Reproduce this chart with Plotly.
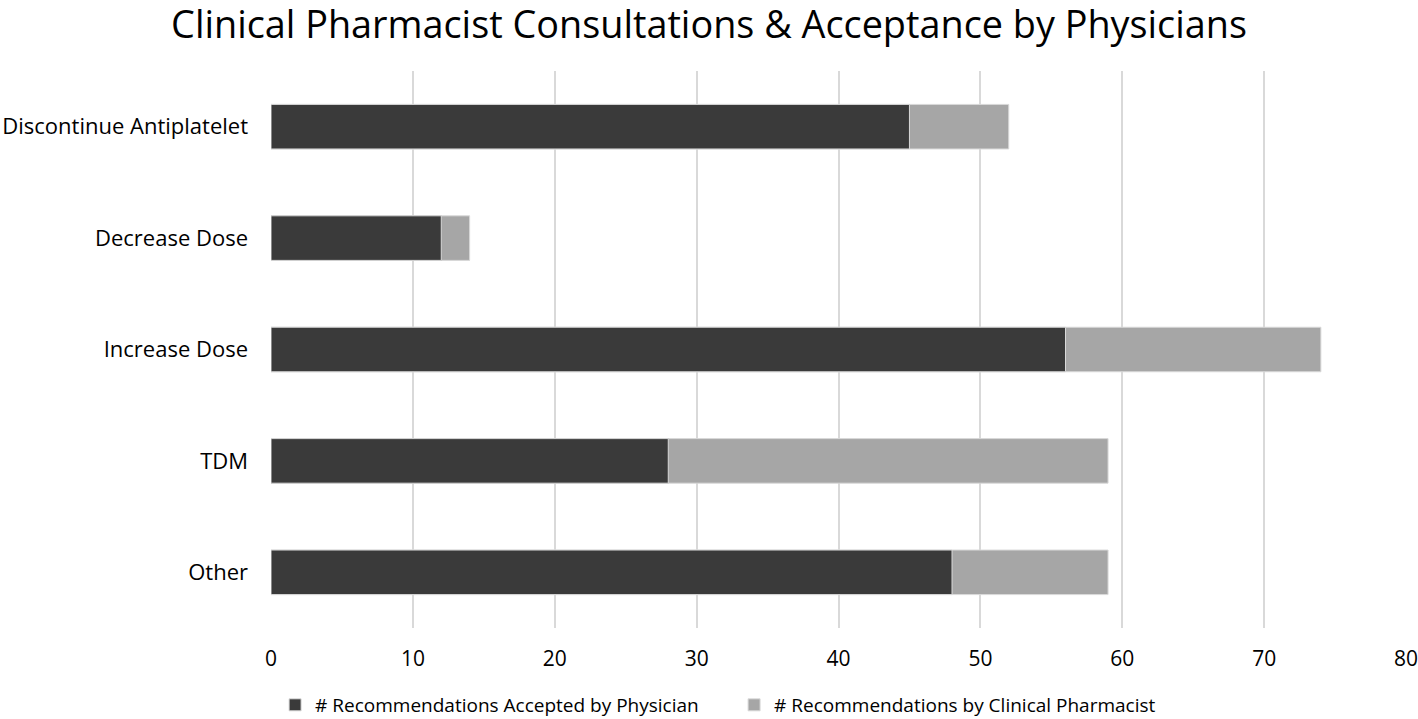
import plotly.graph_objects as go

categories = ["Discontinue Antiplatelet", "Decrease Dose", "Increase Dose", "TDM", "Other"]
accepted = [45, 12, 56, 28, 48]
recommended = [52, 14, 74, 59, 59]
x_ticks = [0, 10, 20, 30, 40, 50, 60, 70, 80]

FONT = "Open Sans, sans-serif"

fig = go.Figure()
fig.add_trace(go.Bar(
    y=categories, x=recommended, orientation="h",
    name="# Recommendations by Clinical Pharmacist",
    marker=dict(color="#a6a6a6", line=dict(color="#d9d9d9", width=1)),
    width=0.4, legendrank=2,
))
fig.add_trace(go.Bar(
    y=categories, x=accepted, orientation="h",
    name="# Recommendations Accepted by Physician",
    marker=dict(color="#3a3a3a", line=dict(color="#d9d9d9", width=1)),
    width=0.4, legendrank=1,
))

fig.update_layout(
    width=1418, height=719,
    barmode="overlay",
    plot_bgcolor="white", paper_bgcolor="white",
    margin=dict(l=271, r=12, t=71, b=91, autoexpand=False),
    title=dict(text="Clinical Pharmacist Consultations & Acceptance by Physicians",
               x=0.5, xanchor="center", y=0.966, yanchor="middle",
               font=dict(family=FONT, size=37.8, color="#000000")),
    font=dict(family=FONT, color="#000000"),
    xaxis=dict(range=[0, 80], tickvals=x_ticks, showgrid=True, gridcolor="#d9d9d9",
               gridwidth=1.5, zeroline=False, showline=False, ticks="",
               tickfont=dict(size=21), ticklabelstandoff=16, automargin=False,
               ticklabeloverflow="allow"),
    yaxis=dict(autorange="reversed", showgrid=False, zeroline=False, showline=False,
               ticks="", tickfont=dict(size=22), ticklabelstandoff=22, automargin=False),
    legend=dict(orientation="h", x=0.408, xanchor="center",
                y=-0.1382, yanchor="middle",
                font=dict(size=19), traceorder="normal",
                entrywidth=414, entrywidthmode="pixels"),
    showlegend=True,
)
fig.write_html("out.html", config={"displayModeBar": False})

# remove the default page margin so the figure sits at the window's top-left corner
with open("out.html", "r", encoding="utf-8") as f:
    html = f.read()
html = html.replace("<head>", "<head><style>html,body{margin:0;padding:0;overflow:hidden;}</style>", 1)
with open("out.html", "w", encoding="utf-8") as f:
    f.write(html)
